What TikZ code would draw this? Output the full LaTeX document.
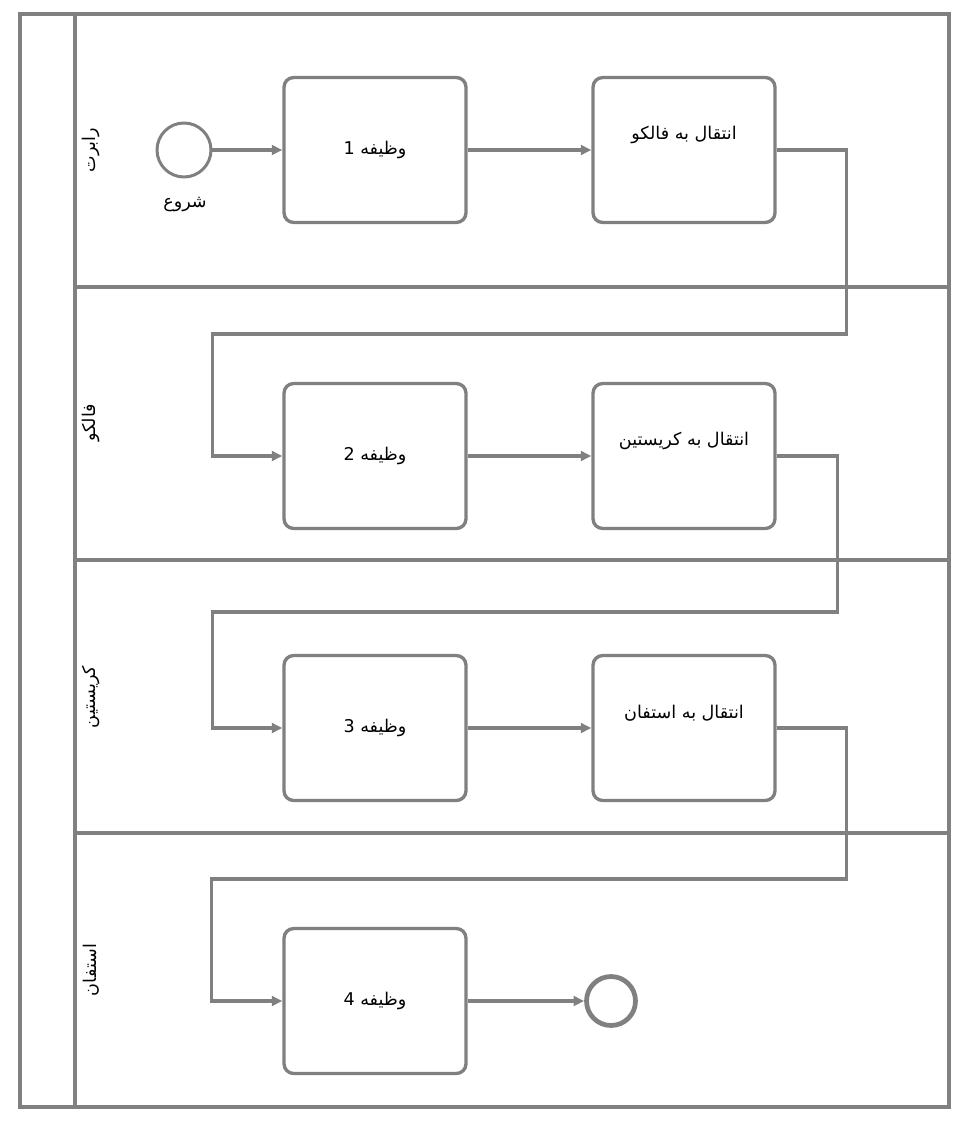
\documentclass[tikz,border=0pt]{standalone}
\usepackage{fontspec}
\usepackage{tikz}
\usetikzlibrary{positioning,calc,arrows.meta}
\newfontfamily\arabicfont[Script=Arabic]{DejaVu Sans}
\TeXXeTstate=1
\definecolor{lanegray}{HTML}{808080}

\tikzset{
  lane/.style={draw=lanegray,line width=1.9pt},
  task/.style={draw=lanegray,line width=1.9pt,rounded corners=5.5pt,
    minimum width=3.64cm,minimum height=2.9cm,font=\fontsize{10}{12}\arabicfont},
  event/.style={circle,draw=lanegray,line width=1.7pt,minimum size=1.08cm,inner sep=0pt},
  endevent/.style={circle,draw=lanegray,line width=2.7pt,minimum size=0.98cm,inner sep=0pt},
  flow/.style={draw=lanegray,line width=1.9pt,-{Triangle[length=6pt,width=5.5pt]}},
  lanename/.style={rotate=90,font=\fontsize{10}{12}\arabicfont},
}

\begin{document}
\begin{tikzpicture}[x=0.02cm,y=-0.02cm]
\useasboundingbox (0,0) rectangle (973,1128);
% pool and lanes
\draw[lane] (20,14) rectangle (949,1107);
\draw[lane] (75,14) -- (75,1107);
\foreach \y in {287,560,833}
  \draw[lane] (75,\y) -- (949,\y);
\node[lanename] (n1) at (91,150) {\beginR رابرت\endR};
\node[lanename] (n2) at (91,423) {\beginR فالکو\endR};
\node[lanename] (n3) at (91,697) {\beginR کریستین\endR};
\node[lanename] (n4) at (91,970) {\beginR استفان\endR};

% events and tasks
\node[event] (start) at (184,150) {};
\node[font=\fontsize{10}{12}\arabicfont] (startlbl) at (185,204) {\beginR شروع\endR};
\node[task] (t1) at (375,150) {\beginR وظیفه 1\endR};
\node[task] (x1) at (684,150) {};
\node[font=\fontsize{10}{12}\arabicfont] at ($(x1)+(0,-15)$) {\beginR انتقال به فالکو\endR};
\node[task] (t2) at (375,456) {\beginR وظیفه 2\endR};
\node[task] (x2) at (684,456) {};
\node[font=\fontsize{10}{12}\arabicfont] at ($(x2)+(0,-15)$) {\beginR انتقال به کریستین\endR};
\node[task] (t3) at (375,728) {\beginR وظیفه 3\endR};
\node[task] (x3) at (684,728) {};
\node[font=\fontsize{10}{12}\arabicfont] at ($(x3)+(0,-15)$) {\beginR انتقال به استفان\endR};
\node[task] (t4) at (375,1001) {\beginR وظیفه 4\endR};
\node[endevent] (stop) at (611,1001) {};

% sequence flows
\draw[flow] (start) -- (t1);
\draw[flow] (t1) -- (x1);
\draw[flow] (x1.east) -- ++(70,0) -- ++(0,184) -| ($(t2.west)+(-70,0)$) -- (t2.west);
\draw[flow] (t2) -- (x2);
\draw[flow] (x2.east) -- ++(61,0) -- ++(0,156) -| ($(t3.west)+(-70,0)$) -- (t3.west);
\draw[flow] (t3) -- (x3);
\draw[flow] (x3.east) -- ++(70,0) -- ++(0,151) -| ($(t4.west)+(-71,0)$) -- (t4.west);
\draw[flow] (t4) -- (stop);
\end{tikzpicture}
\end{document}
